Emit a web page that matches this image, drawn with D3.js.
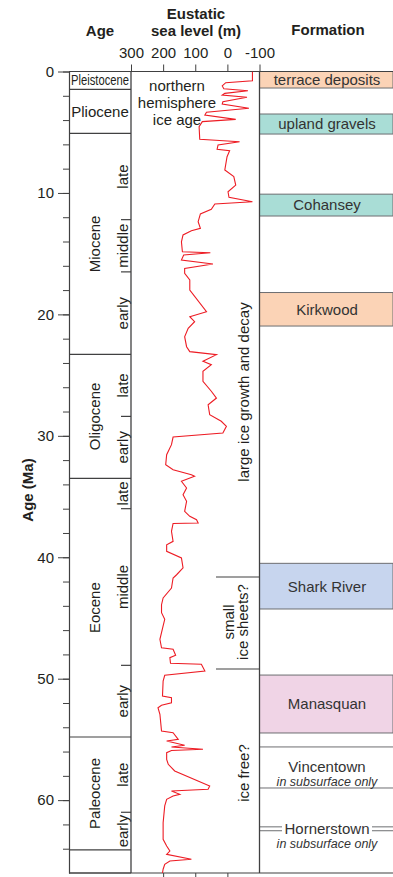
<!DOCTYPE html>
<html>
<head>
<meta charset="utf-8">
<script src="https://cdn.jsdelivr.net/npm/d3@7"></script>
<style>
  body { margin: 0; background: #fff; }
  svg { display: block; font-family: "Liberation Sans", Arial, sans-serif; }
  .axis text { font-size: 15px; fill: #231f20; }
  .axis line, .axis path { stroke: #404041; }
</style>
</head>
<body>
<svg></svg>
<script>
// sea level curve (age in Ma, eustatic level in m)
const ageMa = [0.02, 0.76, 0.92, 1.19, 1.42, 1.58, 1.80, 1.94, 2.12, 2.49, 2.68, 3.03, 3.36, 3.58, 3.94,
  4.13, 4.55, 5.58, 5.78, 6.05, 6.41, 6.52, 7.02, 8.11, 8.66, 9.35, 9.90, 10.36, 10.72, 10.91,
  11.35, 11.73, 12.37, 12.91, 13.11, 13.46, 14.02, 14.84, 14.92, 15.11, 15.52, 15.85, 16.21, 16.62,
  17.17, 17.99, 19.78, 20.19, 20.60, 21.15, 21.84, 22.66, 23.07, 23.32, 23.86, 24.14, 24.69, 25.51,
  26.33, 26.89, 27.44, 28.26, 28.80, 29.22, 29.77, 30.10, 30.73, 31.55, 32.38, 32.79, 33.20, 33.33,
  33.75, 34.30, 34.85, 35.39, 36.22, 36.63, 36.91, 37.18, 37.22, 37.86, 38.69, 38.97, 39.51, 40.06,
  40.88, 41.44, 41.71, 42.53, 43.35, 43.91, 44.56, 45.11, 45.66, 46.76, 47.45, 47.58, 48.07, 48.27,
  48.73, 48.81, 49.37, 49.72, 50.19, 51.42, 51.56, 51.98, 52.19, 52.39, 52.93, 54.31, 54.45, 54.99,
  55.13, 55.48, 55.62, 55.81, 55.91, 56.09, 56.64, 57.05, 57.60, 58.84, 59.11, 59.25, 59.52, 59.66,
  59.93, 60.48, 61.86, 63.23, 63.78, 64.19, 64.46, 64.87, 65.01, 65.28, 65.69, 66.0];
const seaLevel = [-78, -78, 5, 16, 11, -64, 8, 16, -61, 14, 16, -67, 65, 70, -26,
  78, 88, 86, -38, 29, 32, -7, 1, 8, -20, -26, -2, -5, -78, 39,
  50, 84, 91, 84, 112, 138, 143, 140, 53, 136, 143, 45, 133, 133,
  117, 117, 65, 117, 102, 122, 133, 127, 117, 34, 76, 50, 76, 76,
  50, 34, 60, 55, 19, 3, 14, 169, 174, 189, 192, 169, 112, 102,
  143, 127, 138, 127, 133, 117, 96, 91, 169, 174, 169, 189, 189, 143,
  138, 158, 169, 174, 200, 205, 205, 195, 200, 210, 205, 169, 161, 179,
  177, 81, 70, 195, 200, 202, 174, 174, 205, 216, 210, 205, 169, 153,
  189, 133, 174, 76, 174, 189, 189, 184, 164, 55, 60, 174, 148, 169,
  189, 195, 200, 200, 189, 179, 189, 112, 179, 195, 200, 202];

// time scale columns
const epochNames = ["Pleistocene", "Pliocene", "Miocene", "Oligocene", "Eocene", "Paleocene", ""];
const epochTop = [0, 1.47, 5.1, 23.3, 33.5, 54.8, 64.1];
const epochBase = [1.47, 5.1, 23.3, 33.5, 54.8, 64.1, 66];

const subNames = ["late", "middle", "early", "late", "early", "late", "middle", "early", "late", "early"];
const subTop = [5.1, 12.2, 16.5, 23.3, 28.4, 33.5, 36.0, 48.9, 54.8, 61.0];
const subBase = [12.2, 16.5, 23.3, 28.4, 33.5, 36.0, 48.9, 54.8, 61.0, 64.1];

// formations
const formNames = ["terrace deposits", "upland gravels", "Cohansey", "Kirkwood", "Shark River", "Manasquan"];
const formTop = [0, 3.5, 10.1, 18.2, 40.5, 49.7];
const formBase = [1.36, 5.15, 11.9, 20.96, 44.26, 54.47];
const formColors = ["#fbd3b6", "#a9ddd6", "#a9ddd6", "#fbd3b6", "#c7d5ee", "#f0d4e6"];

const subsurfNames = ["Vincentown", "Hornerstown"];
const subsurfTop = [55.62, 62.2];
const subsurfBase = [59.0, 62.52];

const ageTicks = [0, 10, 20, 30, 40, 50, 60];
const levelTicks = [300, 200, 100, 0, -100];

const W = 393, H = 877;
const svg = d3.select("svg").attr("width", W).attr("height", H);

const y = d3.scaleLinear().domain([0, 66]).range([71.5, 873]);
const x = d3.scaleLinear().domain([300, -100]).range([131, 259.5]);

const colL = 69, colR = x(300), formL = x(-100), formR = W;
const ink = "#231f20", frame = "#404041";

// headers
const head = svg.append("g").attr("font-weight", "bold").attr("font-size", 15)
  .attr("fill", ink).attr("text-anchor", "middle");
head.append("text").attr("x", 100).attr("y", 36).text("Age");
head.append("text").attr("x", 196).attr("y", 19).text("Eustatic");
head.append("text").attr("x", 196).attr("y", 36).text("sea level (m)");
head.append("text").attr("x", 328).attr("y", 35).text("Formation");

svg.append("text")
  .attr("transform", `translate(33,490) rotate(-90)`)
  .attr("text-anchor", "middle").attr("font-weight", "bold").attr("font-size", 15)
  .attr("fill", ink).text("Age (Ma)");

// formation boxes
const forms = svg.append("g");
formNames.forEach((name, i) => {
  forms.append("rect")
    .attr("x", formL).attr("width", formR - formL)
    .attr("y", y(formTop[i])).attr("height", y(formBase[i]) - y(formTop[i]))
    .attr("fill", formColors[i]).attr("stroke", "#6d6e71").attr("stroke-width", 1);
  forms.append("text")
    .attr("x", 327).attr("y", (y(formTop[i]) + y(formBase[i])) / 2)
    .attr("dy", "0.36em").attr("text-anchor", "middle").attr("font-size", 15)
    .attr("fill", "#333").text(name);
});

// Vincentown
[subsurfTop[0], subsurfBase[0]].forEach(a => {
  forms.append("line").attr("x1", formL).attr("x2", formR)
    .attr("y1", y(a)).attr("y2", y(a)).attr("stroke", "#6d6e71");
});
forms.append("text").attr("x", 327).attr("y", 772).attr("text-anchor", "middle")
  .attr("font-size", 15).attr("fill", "#333").text(subsurfNames[0]);
forms.append("text").attr("x", 327).attr("y", 785.5).attr("text-anchor", "middle")
  .attr("font-size", 12.5).attr("font-style", "italic").attr("fill", "#333").text("in subsurface only");

// Hornerstown, double lines broken by the label
[subsurfTop[1], subsurfBase[1]].forEach(a => {
  forms.append("line").attr("x1", formL).attr("x2", 282)
    .attr("y1", y(a)).attr("y2", y(a)).attr("stroke", "#6d6e71");
  forms.append("line").attr("x1", 372).attr("x2", formR)
    .attr("y1", y(a)).attr("y2", y(a)).attr("stroke", "#6d6e71");
});
forms.append("text").attr("x", 327).attr("y", 834).attr("text-anchor", "middle")
  .attr("font-size", 15).attr("fill", "#333").text(subsurfNames[1]);
forms.append("text").attr("x", 327).attr("y", 847.5).attr("text-anchor", "middle")
  .attr("font-size", 12.5).attr("font-style", "italic").attr("fill", "#333").text("in subsurface only");

// epoch column
const ep = svg.append("g");
epochNames.forEach((name, i) => {
  ep.append("line").attr("x1", colL).attr("x2", colR)
    .attr("y1", y(epochBase[i])).attr("y2", y(epochBase[i]))
    .attr("stroke", frame).attr("stroke-width", 1.2);
  const cy = (y(epochTop[i]) + y(epochBase[i])) / 2;
  if (i < 2) {
    const t = ep.append("text").attr("x", 100).attr("y", cy).attr("dy", "0.36em")
      .attr("text-anchor", "middle").attr("font-size", i === 0 ? 14 : 15).attr("fill", ink).text(name);
    if (i === 0) t.attr("textLength", 58).attr("lengthAdjust", "spacingAndGlyphs");
  } else if (name) {
    ep.append("text").attr("transform", `translate(95,${cy}) rotate(-90)`)
      .attr("dy", "0.36em").attr("text-anchor", "middle").attr("font-size", 15)
      .attr("fill", ink).text(name);
  }
});

subNames.forEach((name, i) => {
  const cy = (y(subTop[i]) + y(subBase[i])) / 2;
  ep.append("text").attr("transform", `translate(123,${cy}) rotate(-90)`)
    .attr("dy", "0.36em").attr("text-anchor", "middle").attr("font-size", 15)
    .attr("fill", ink).text(name);
});
// short dividers between sub-epochs
subBase.filter(a => !epochBase.includes(a)).forEach(a => {
  ep.append("line").attr("x1", 121).attr("x2", colR)
    .attr("y1", y(a)).attr("y2", y(a)).attr("stroke", frame).attr("stroke-width", 1.2);
});

// left axis with minor ticks
svg.append("g").attr("class", "axis")
  .attr("transform", `translate(${colL},0)`)
  .call(d3.axisLeft(y).tickValues(d3.range(0, 66, 2)).tickSize(6).tickFormat(""))
  .call(g => g.select(".domain").remove());
svg.append("g").attr("class", "axis")
  .attr("transform", `translate(${colL},0)`)
  .call(d3.axisLeft(y).tickValues(ageTicks).tickSize(11).tickSizeOuter(0).tickPadding(4))
  .call(g => g.select(".domain").attr("stroke-width", 1.2));

// top and bottom axes of sea-level panel
svg.append("g").attr("class", "axis")
  .attr("transform", `translate(0,${y(0)})`)
  .call(d3.axisTop(x).tickValues(levelTicks).tickSize(7).tickPadding(7).tickFormat(d => String(d)))
  .call(g => g.select(".domain").remove());
svg.append("g").attr("class", "axis")
  .attr("transform", `translate(0,${y(66)})`)
  .call(d3.axisBottom(x).tickValues([200, 100, 0]).tickSize(4).tickFormat(""))
  .call(g => g.select(".domain").remove());

// frame lines
svg.append("line").attr("x1", colL).attr("x2", W).attr("y1", y(0)).attr("y2", y(0))
  .attr("stroke", frame).attr("stroke-width", 1.2);
svg.append("line").attr("x1", colL).attr("x2", W).attr("y1", y(66)).attr("y2", y(66))
  .attr("stroke", frame).attr("stroke-width", 1.2);
[colR, formL].forEach(px => {
  svg.append("line").attr("x1", px).attr("x2", px).attr("y1", y(0)).attr("y2", y(66))
    .attr("stroke", frame).attr("stroke-width", 1.3);
});

// ice annotations
const note = svg.append("g").attr("font-size", 15).attr("fill", ink).attr("text-anchor", "middle");
["northern", "hemisphere", "ice age"].forEach((t, i) => {
  note.append("text").attr("x", 177).attr("y", 86 + i * 17).attr("dy", "0.36em").text(t);
});
note.append("text").attr("transform", "translate(244,392) rotate(-90)").attr("dy", "0.36em")
  .text("large ice growth and decay");
note.append("text").attr("transform", "translate(229,622) rotate(-90)").attr("dy", "0.36em").text("small");
note.append("text").attr("transform", "translate(243,622) rotate(-90)").attr("dy", "0.36em").text("ice sheets?");
note.append("text").attr("transform", "translate(244,773) rotate(-90)").attr("dy", "0.36em").text("ice free?");
[577, 669].forEach(py => {
  svg.append("line").attr("x1", 216).attr("x2", formL).attr("y1", py).attr("y2", py)
    .attr("stroke", frame).attr("stroke-width", 1.2);
});

// sea level curve
const curve = ageMa.map((a, i) => ({ age: a, level: seaLevel[i] }));
const line = d3.line().x(d => x(d.level)).y(d => y(d.age));
svg.append("path").datum(curve)
  .attr("d", line).attr("fill", "none")
  .attr("stroke", "#ed1c24").attr("stroke-width", 1.1);
</script>
</body>
</html>
